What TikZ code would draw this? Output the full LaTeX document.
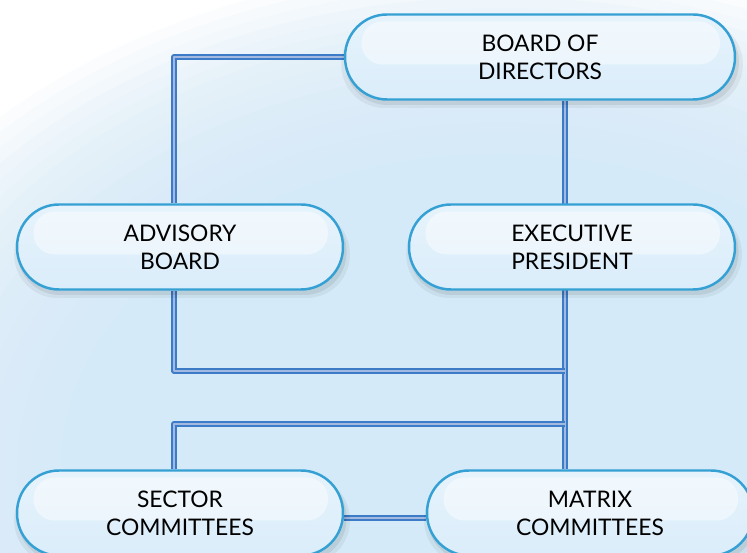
\documentclass[tikz,border=0pt]{standalone}
\usepackage{fontspec}
\setmainfont{Lato}
\usepackage{xcolor}
\usetikzlibrary{positioning,backgrounds,shadows}

\definecolor{bgblue}{HTML}{D4EAF8}
\definecolor{unitborder}{HTML}{34A0D4}
\definecolor{unittop}{HTML}{E6F3FC}
\definecolor{unitmid}{HTML}{C4DFF3}
\definecolor{unitbot}{HTML}{DAEDFA}
\definecolor{linkouter}{HTML}{3B7BC8}
\definecolor{linkinner}{HTML}{A3B9E0}

\begin{document}
\begin{tikzpicture}[x=0.02cm, y=-0.02cm,
    unit/.style={rectangle, rounded corners=0.84cm, minimum width=6.52cm, minimum height=1.7cm,
        draw=unitborder, line width=1.4pt, top color=unittop, middle color=unitmid, bottom color=unitbot,
        align=center, font=\fontsize{13}{16}\selectfont, text=black,
        general shadow={fill=black, opacity=0.05, shadow xshift=0.4mm, shadow yshift=-1.4mm, shadow scale=1.03},
        general shadow={fill=black, opacity=0.07, shadow xshift=0.4mm, shadow yshift=-1.0mm, shadow scale=1.01},
        path picture={\fill[white, fill opacity=0.45, rounded corners=0.42cm]
            ([xshift=0.33cm, yshift=-0.14cm]path picture bounding box.north west) rectangle
            ([xshift=-0.3cm, yshift=-0.15cm]path picture bounding box.east);}},
    link/.style={draw=linkouter, line width=1.1pt, double=linkinner, double distance=1.1pt, line join=round},
]
\useasboundingbox (0,0) rectangle (747,553);

% Backdrop: white corner fading into light blue
\begin{scope}[on background layer]
  \clip (0,0) rectangle (747,553);
  \fill[white] (0,0) rectangle (747,553);
  \foreach \k in {0,...,31}
    \fill[bgblue, opacity=0.1] (500,470) ellipse [x radius={700-14.5*\k}, y radius={0.72*(700-14.5*\k)}];
\end{scope}

% Units
\node[unit, minimum width=7.8cm] (board) at (540,57) {BOARD OF\\DIRECTORS};
\node[unit] (advisory) at (180,247) {ADVISORY\\BOARD};
\node[unit] (exec) at (572,247) {EXECUTIVE\\PRESIDENT};
\node[unit] (sector) at (180,513) {SECTOR\\COMMITTEES};
\node[unit] (matrix) at (590,513) {MATRIX\\COMMITTEES};

% Connector guides
\coordinate (advx) at (174,0);
\coordinate (trunk) at (565,0);
\coordinate (join1) at (565,371);
\coordinate (join2) at (565,424);

% Links
\begin{scope}[on background layer]
  \draw[link] (board.west) -| (advx |- advisory.north);
  \draw[link] (trunk |- board.south) -- (trunk |- matrix.north);
  \draw[link] (advx |- advisory.south) |- (join1);
  \draw[link] (join2) -| (advx |- sector.north);
  \draw[link] ([yshift=-0.1cm]sector.east) -- ([yshift=-0.1cm]matrix.west);
\end{scope}

\end{tikzpicture}
\end{document}
